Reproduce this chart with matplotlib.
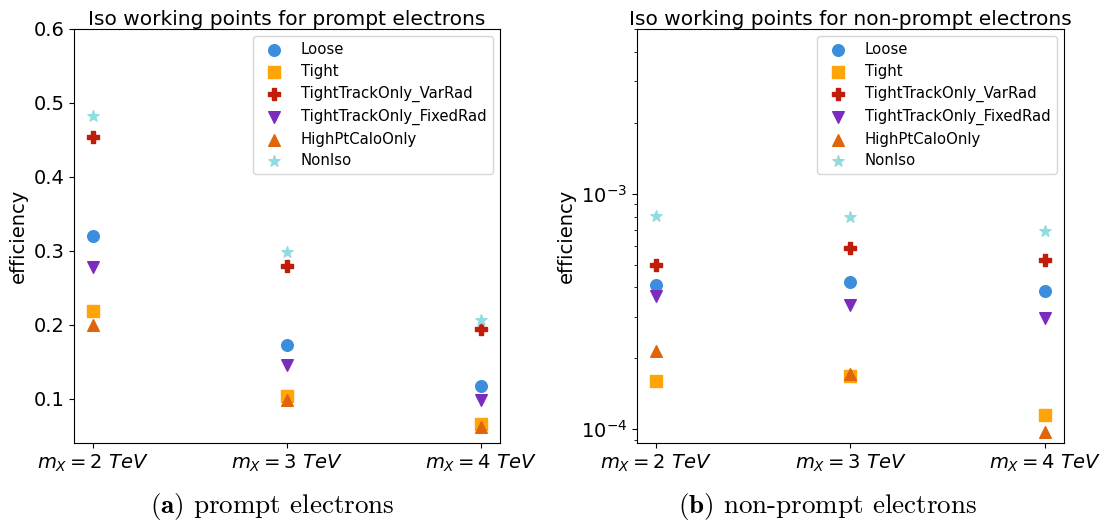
import matplotlib
matplotlib.use("Agg")
import matplotlib.pyplot as plt

masses = [r"$m_X = 2\ TeV$", r"$m_X = 3\ TeV$", r"$m_X = 4\ TeV$"]
labels = ["Loose", "Tight", "TightTrackOnly_VarRad", "TightTrackOnly_FixedRad",
          "HighPtCaloOnly", "NonIso"]
markers = ["o", "s", "P", "v", "^", "*"]
colors = ["#3b8ede", "#ffa50a", "#c01e0a", "#7b2cbf", "#e0650a", "#90dce0"]

prompt_loose = [0.320, 0.173, 0.117]
prompt_tight = [0.218, 0.103, 0.066]
prompt_varrad = [0.454, 0.279, 0.194]
prompt_fixedrad = [0.278, 0.146, 0.098]
prompt_highpt = [0.200, 0.098, 0.062]
prompt_noniso = [0.482, 0.298, 0.206]

nonprompt_loose = [4.08e-4, 4.22e-4, 3.85e-4]
nonprompt_tight = [1.60e-4, 1.68e-4, 1.15e-4]
nonprompt_varrad = [4.96e-4, 5.90e-4, 5.21e-4]
nonprompt_fixedrad = [3.68e-4, 3.36e-4, 2.98e-4]
nonprompt_highpt = [2.14e-4, 1.72e-4, 9.76e-5]
nonprompt_noniso = [8.04e-4, 7.99e-4, 6.92e-4]

prompt = [prompt_loose, prompt_tight, prompt_varrad, prompt_fixedrad, prompt_highpt, prompt_noniso]
nonprompt = [nonprompt_loose, nonprompt_tight, nonprompt_varrad, nonprompt_fixedrad,
             nonprompt_highpt, nonprompt_noniso]

W, H = 1107, 522
fig = plt.figure(figsize=(W / 100, H / 100), dpi=100)

ax1 = fig.add_axes([74 / W, (H - 443) / H, 426 / W, 414 / H])
ax2 = fig.add_axes([637 / W, (H - 443) / H, 427 / W, 414 / H])

x = list(range(len(masses)))
for ax, data, title in [(ax1, prompt, "Iso working points for prompt electrons"),
                        (ax2, nonprompt, "Iso working points for non-prompt electrons")]:
    for vals, lab, mk, c in zip(data, labels, markers, colors):
        ax.scatter(x, vals, marker=mk, s=70, color=c, label=lab, zorder=3)
    ax.set_xticks(x)
    ax.set_xticklabels(masses)
    ax.tick_params(labelsize=14)
    ax.set_ylabel("efficiency", fontsize=14)
    ax.set_title(title, fontsize=14.5, pad=3)
    ax.legend(loc="upper right", fontsize=10.7, labelspacing=0.45)

ax1.set_ylim(0.04, 0.6)
ax1.set_yticks([0.1, 0.2, 0.3, 0.4, 0.5, 0.6])
ax2.set_yscale("log")
ax2.set_ylim(8.75e-5, 5e-3)

fig.text(272 / W, 1 - 506 / H, r"$\mathbf{(a)}$ prompt electrons", fontfamily="cmr10",
         math_fontfamily="cm", fontsize=19.5, ha="center", va="center")
fig.text(828 / W, 1 - 506 / H, r"$\mathbf{(b)}$ non-prompt electrons", fontfamily="cmr10",
         math_fontfamily="cm", fontsize=19.5, ha="center", va="center")

fig.savefig("out.png", dpi=100)
